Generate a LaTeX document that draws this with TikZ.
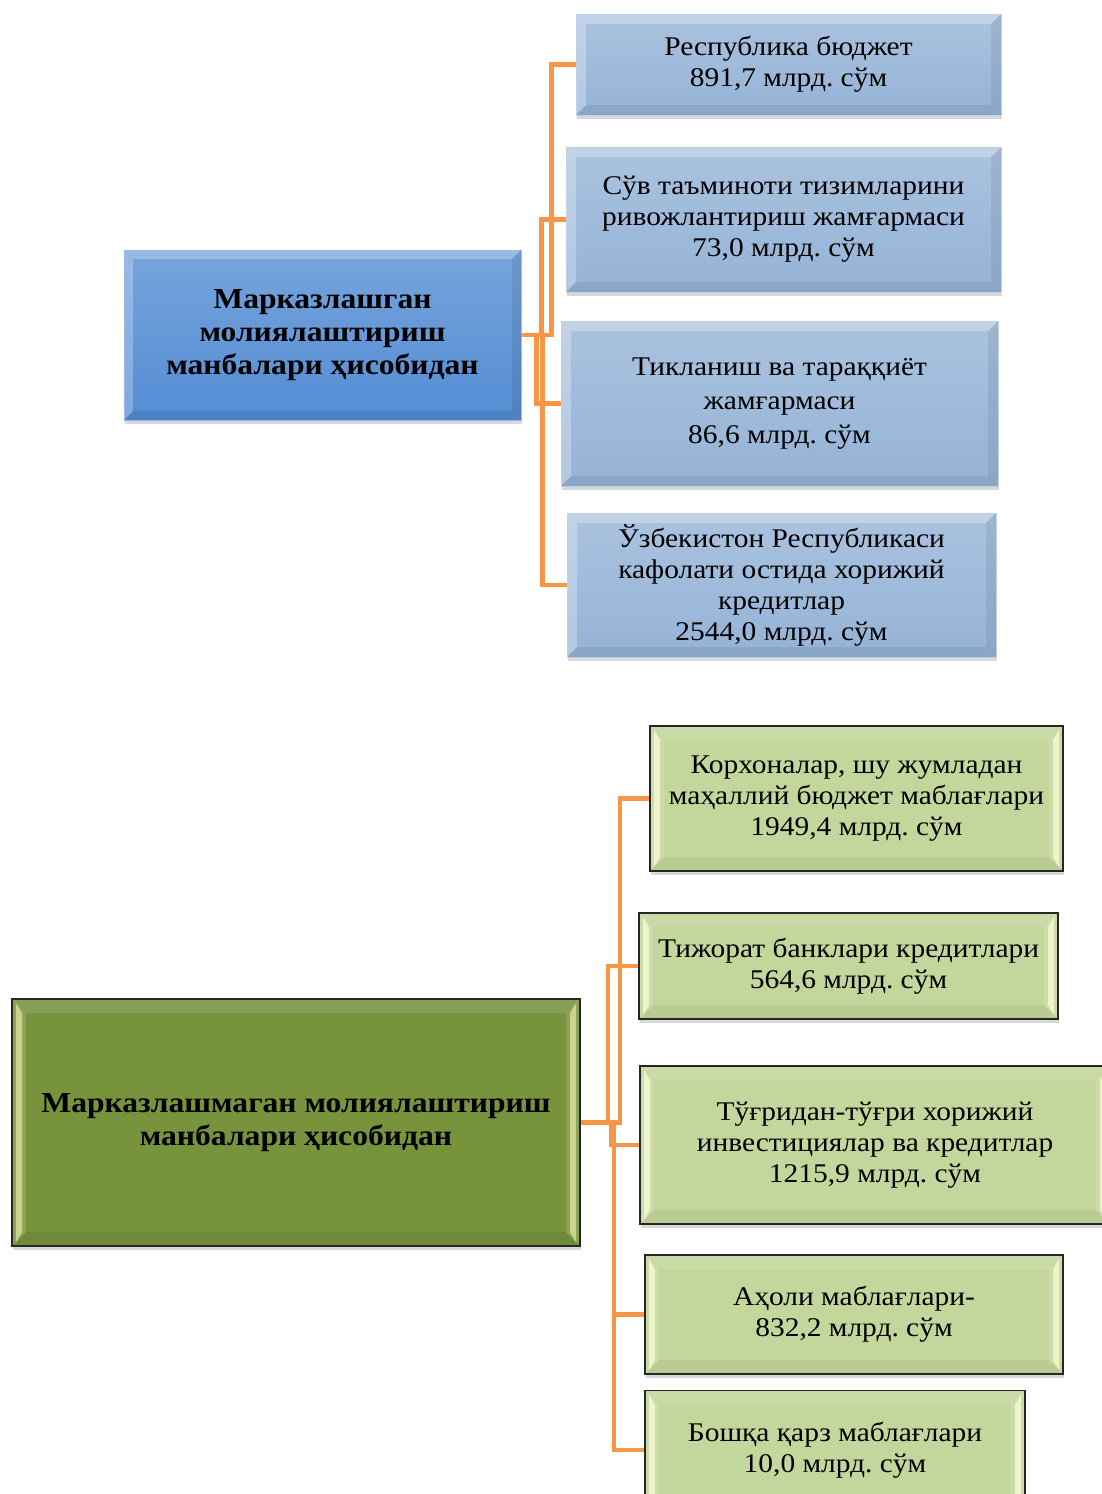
\documentclass[tikz,border=0pt]{standalone}
\usepackage{fontspec}
\setmainfont{Liberation Serif}[FakeStretch=1.09]
\usetikzlibrary{shadows,calc}
\frenchspacing
\definecolor{mainblue}{RGB}{84,141,212}
\definecolor{childblue}{RGB}{149,179,215}
\definecolor{maingreen}{RGB}{119,147,60}
\definecolor{childgreen}{RGB}{195,214,155}
\definecolor{connorange}{RGB}{247,150,70}
\tikzset{
  bevel/.style n args={3}{path picture={
    \coordinate (pnw) at (path picture bounding box.north west);
    \coordinate (pne) at (path picture bounding box.north east);
    \coordinate (psw) at (path picture bounding box.south west);
    \coordinate (pse) at (path picture bounding box.south east);
    \coordinate (inw) at ([xshift=#1,yshift=-#1]pnw);
    \coordinate (ine) at ([xshift=-#1,yshift=-#1]pne);
    \coordinate (isw) at ([xshift=#1,yshift=#1]psw);
    \coordinate (ise) at ([xshift=-#1,yshift=#1]pse);
    \fill[#2] (pnw) -- (pne) -- (ine) -- (inw) -- cycle;
    \fill[#2] (pnw) -- (inw) -- (isw) -- (psw) -- cycle;
    \fill[#3] (pne) -- (pse) -- (ise) -- (ine) -- cycle;
    \fill[#3] (psw) -- (pse) -- (ise) -- (isw) -- cycle;
  }},
  greenbevel/.style n args={2}{path picture={
    \coordinate (pnw) at (path picture bounding box.north west);
    \coordinate (pne) at (path picture bounding box.north east);
    \coordinate (psw) at (path picture bounding box.south west);
    \coordinate (pse) at (path picture bounding box.south east);
    \fill[white,opacity=0.12] (pnw) -- (pne) -- ([xshift=-14pt,yshift=-14pt]pne) -- ([xshift=14pt,yshift=-14pt]pnw) -- cycle;
    \fill[black,opacity=0.05] (psw) -- (pse) -- ([xshift=-14pt,yshift=14pt]pse) -- ([xshift=14pt,yshift=14pt]psw) -- cycle;
    \fill[white,opacity=0.15] (pnw) -- ([xshift=14pt,yshift=-14pt]pnw) -- ([xshift=14pt,yshift=14pt]psw) -- (psw) -- cycle;
    \fill[white,opacity=0.15] (pne) -- ([xshift=-14pt,yshift=-14pt]pne) -- ([xshift=-14pt,yshift=14pt]pse) -- (pse) -- cycle;
    \fill[#1,opacity=#2] ([xshift=4pt,yshift=-4pt]pnw) -- ([xshift=10pt,yshift=-14pt]pnw) -- ([xshift=10pt,yshift=14pt]psw) -- ([xshift=4pt,yshift=4pt]psw) -- cycle;
    \fill[#1,opacity=#2] ([xshift=-4pt,yshift=-4pt]pne) -- ([xshift=-10pt,yshift=-14pt]pne) -- ([xshift=-10pt,yshift=14pt]pse) -- ([xshift=-4pt,yshift=4pt]pse) -- cycle;
  }},
  boxbase/.style={rectangle, inner sep=4pt, align=center,
    drop shadow={opacity=0.3, shadow xshift=1pt, shadow yshift=-4pt}},
  mainbluebox/.style={boxbase, top color=mainblue!80!white, bottom color=mainblue,
    draw=mainblue!60!white, line width=0.6pt,
    bevel={9pt}{{white,opacity=0.25}}{{black,opacity=0.08}},
    font=\fontsize{29}{33}\selectfont\bfseries},
  childbluebox/.style={boxbase, top color=childblue!80!white, bottom color=childblue,
    draw=childblue!60!white, line width=0.6pt,
    bevel={10pt}{{white,opacity=0.28}}{{black,opacity=0.07}},
    font=\fontsize{27}{31}\selectfont},
  maingreenbox/.style={boxbase, fill=maingreen, draw=black!85, line width=1.6pt,
    greenbevel={white!70!yellow}{0.55},
    font=\fontsize{29}{33}\selectfont\bfseries},
  childgreenbox/.style={boxbase, fill=childgreen, draw=black!85, line width=1.6pt,
    greenbevel={white!85!yellow}{0.7},
    font=\fontsize{27}{31}\selectfont},
  conn/.style={draw=connorange, line width=4.5pt, line join=miter}
}
\begin{document}
\begin{tikzpicture}[x=1pt,y=-1pt]
\useasboundingbox (0,0) rectangle (1102,1494);
\fill[white] (0,0) rectangle (1102,1494);
\clip (0,0) rectangle (1102,1494);

% top group
\node[mainbluebox, minimum width=397pt, minimum height=170pt] (mb) at (322.5,335)
  {Марказлашган\\молиялаштириш\\манбалари ҳисобидан};
\node[childbluebox, minimum width=425pt, minimum height=101pt] (b1) at (788.5,64.5)
  {Республика бюджет\\891,7 млрд. сўм};
\node[childbluebox, minimum width=435pt, minimum height=145pt] (b2) at (783.5,219.5)
  {Сўв таъминоти тизимларини\\ривожлантириш жамғармаси\\73,0 млрд. сўм};
\node[childbluebox, minimum width=437pt, minimum height=165pt, font=\fontsize{27}{34}\selectfont] (b3) at (779.5,403.5)
  {Тикланиш ва тараққиёт\\жамғармаси\\86,6 млрд. сўм};
\node[childbluebox, minimum width=429pt, minimum height=144pt] (b4) at (781.5,585)
  {Ўзбекистон Республикаси\\кафолати остида хорижий\\кредитлар\\2544,0 млрд. сўм};

\draw[conn] (mb.east) -- ++(30,0) |- (b1.west);
\draw[conn] (mb.east) -- ++(20,0) |- (b2.west);
\draw[conn] (mb.east) -- ++(15,0) |- (b3.west);
\draw[conn] (mb.east) -- ++(21,0) |- (b4.west);

% bottom group
\node[maingreenbox, minimum width=568pt, minimum height=247pt] (mg) at (296,1122.5)
  {Марказлашмаган молиялаштириш\\манбалари ҳисобидан};
\node[childgreenbox, minimum width=413pt, minimum height=145pt] (g1) at (856.5,798.5)
  {Корхоналар, шу жумладан\\маҳаллий бюджет маблағлари\\1949,4 млрд. сўм};
\node[childgreenbox, minimum width=419pt, minimum height=106pt] (g2) at (848.5,966)
  {Тижорат банклари кредитлари\\564,6 млрд. сўм};
\node[childgreenbox, minimum width=470pt, minimum height=158pt] (g3) at (875,1145)
  {Тўғридан-тўғри хорижий\\инвестициялар ва кредитлар\\1215,9 млрд. сўм};
\node[childgreenbox, minimum width=418pt, minimum height=119pt] (g4) at (854,1314.5)
  {Аҳоли маблағлари-\\832,2 млрд. сўм};
\node[childgreenbox, minimum width=380pt, minimum height=119pt] (g5) at (835,1450)
  {Бошқа қарз маблағлари\\10,0 млрд. сўм};

\draw[conn] (mg.east) -- ++(39,0) |- (g1.west);
\draw[conn] (mg.east) -- ++(27,0) |- (g2.west);
\draw[conn] (mg.east) -- ++(30,0) |- (g3.west);
\draw[conn] (mg.east) -- ++(33,0) |- (g4.west);
\draw[conn] (mg.east) -- ++(33,0) |- (g5.west);
\end{tikzpicture}
\end{document}
